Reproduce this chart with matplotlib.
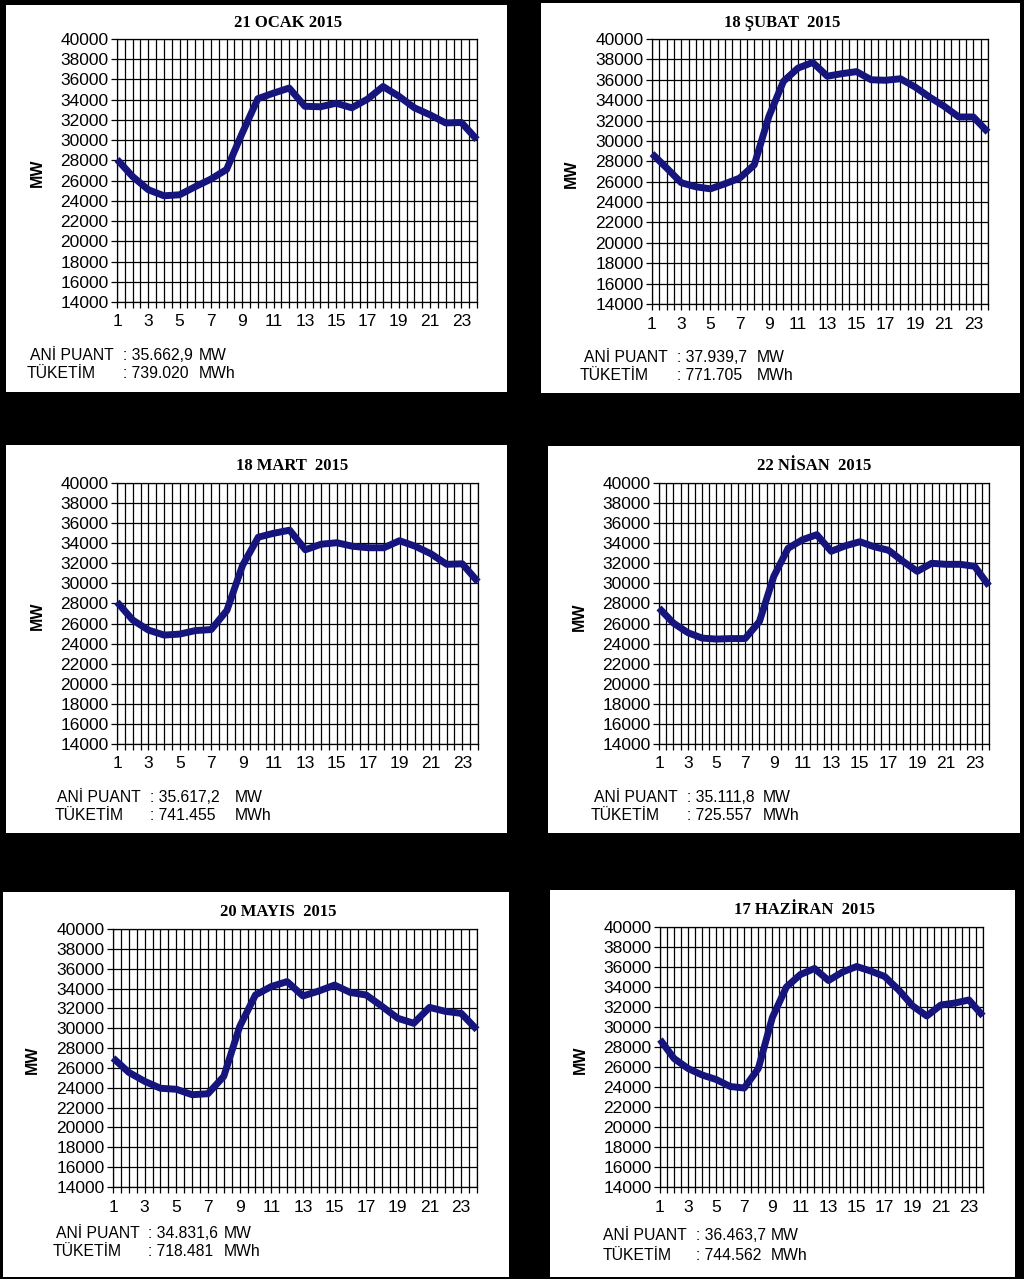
import matplotlib
matplotlib.use("Agg")
import matplotlib.pyplot as plt
from matplotlib.patches import Rectangle
import numpy as np

hours = list(range(1, 25))

ocak = [28100, 26400, 25100, 24500, 24600, 25400, 26150, 27100, 30700, 34100, 34650, 35150,
        33350, 33300, 33650, 33200, 34050, 35300, 34350, 33200, 32500, 31700, 31750, 30050]
subat = [28750, 27350, 25900, 25500, 25300, 25800, 26350, 27650, 32400, 35850, 37150, 37700,
         36350, 36600, 36800, 36000, 35950, 36100, 35300, 34300, 33400, 32350, 32350, 30850]
mart = [28150, 26350, 25350, 24850, 24950, 25300, 25400, 27300, 31800, 34600, 35000, 35300,
        33350, 33900, 34050, 33700, 33550, 33550, 34250, 33700, 32950, 31900, 31950, 30150]
nisan = [27550, 26050, 25100, 24550, 24450, 24500, 24500, 26200, 30700, 33500, 34350, 34850,
         33200, 33750, 34150, 33650, 33300, 32200, 31200, 32000, 31900, 31900, 31700, 29750]
mayis = [27000, 25550, 24650, 23950, 23850, 23300, 23400, 25150, 30150, 33350, 34200, 34700,
         33250, 33750, 34350, 33600, 33350, 32200, 31000, 30500, 32100, 31700, 31500, 29850]
haziran = [28750, 26850, 25850, 25200, 24750, 24050, 23900, 25850, 30950, 34000, 35250, 35850,
           34650, 35500, 36050, 35600, 35050, 33700, 32100, 31100, 32200, 32400, 32700, 31100]

titles = ["21 OCAK 2015", "18 ŞUBAT  2015", "18 MART  2015",
          "22 NİSAN  2015", "20 MAYIS  2015", "17 HAZİRAN  2015"]
puant = ["35.662,9", "37.939,7", "35.617,2", "35.111,8", "34.831,6", "36.463,7"]
tuketim = ["739.020", "771.705", "741.455", "725.557", "718.481", "744.562"]
series = [ocak, subat, mart, nisan, mayis, haziran]

W, H = 1024, 1279
LINE = "#15157d"

# pixel layouts: white box, axes box, title pos, MW pos, text rows
panels = [
    dict(box=(6, 5, 507, 392), ax=(117, 39, 477, 302), title=(288, 23), mw=(37, 173),
         rows=(355, 374), lx=(30, 27), cx=123, ux=199),
    dict(box=(541, 3, 1020, 393), ax=(652, 39, 988, 304), title=(782, 23), mw=(571, 174),
         rows=(357, 376), lx=(584, 580), cx=677, ux=757),
    dict(box=(6, 445, 507, 833), ax=(117, 483, 478, 744), title=(292, 466), mw=(37, 616),
         rows=(797, 815), lx=(57, 55), cx=150, ux=235),
    dict(box=(548, 446, 1020, 833), ax=(659, 483, 989, 744), title=(814, 466), mw=(579, 617),
         rows=(797, 815), lx=(594, 591), cx=687, ux=763),
    dict(box=(3, 892, 509, 1277), ax=(113, 929, 477, 1187), title=(278, 912), mw=(32, 1060),
         rows=(1233, 1252), lx=(56, 53), cx=148, ux=224),
    dict(box=(550, 890, 1015, 1277), ax=(660, 927, 983, 1187), title=(804, 910), mw=(580, 1060),
         rows=(1236, 1255), lx=(603, 603), cx=696, ux=771),
]

sans = "Liberation Sans"
serif = "Liberation Serif"

fig = plt.figure(figsize=(W / 100, H / 100), dpi=100, facecolor="black")


def fx(x):
    return x / W


def fy(y):
    return 1 - y / H


for p, data, title, pv, tv in zip(panels, series, titles, puant, tuketim):
    x0, y0, x1, y1 = p["box"]
    fig.patches.append(Rectangle((fx(x0), fy(y1)), (x1 - x0) / W, (y1 - y0) / H,
                                 transform=fig.transFigure, facecolor="white",
                                 edgecolor="none", zorder=-5))
    a0, b0, a1, b1 = p["ax"]
    ax = fig.add_axes([fx(a0), fy(b1), (a1 - a0) / W, (b1 - b0) / H])
    ax.plot(hours, data, color=LINE, linewidth=5, solid_joinstyle="round",
            solid_capstyle="butt", zorder=3, clip_on=False)
    ax.set_xlim(1, 24)
    ax.set_ylim(14000, 40000)
    xt = np.arange(1, 24.01, 0.5)
    ax.set_xticks(xt)
    ax.set_xticklabels([str(int(v)) if v == int(v) and int(v) % 2 == 1 else "" for v in xt])
    ax.set_yticks(np.arange(14000, 40001, 2000))
    ax.grid(True, color="black", linewidth=0.9)
    ax.set_axisbelow(True)
    for s in ax.spines.values():
        s.set_linewidth(0.9)
    ax.tick_params(axis="both", length=4, width=0.9, labelsize=12.5, pad=2)
    ax.tick_params(axis="x", pad=5)
    for lab in ax.get_xticklabels() + ax.get_yticklabels():
        lab.set_fontfamily(sans)

    fig.text(fx(p["title"][0]), fy(p["title"][1]), title, ha="center", va="center",
             fontsize=12, fontweight="bold", family=serif)
    fig.text(fx(p["mw"][0]), fy(p["mw"][1]), "MW", ha="center", va="center",
             rotation=90, fontsize=11.5, fontweight="bold", family=sans)
    r1, r2 = p["rows"]
    fig.text(fx(p["lx"][0]), fy(r1), "ANİ PUANT", va="center", fontsize=11.3, family=sans)
    fig.text(fx(p["cx"]), fy(r1), ": " + pv, va="center", fontsize=11.3, family=sans)
    fig.text(fx(p["ux"]), fy(r1), "MW", va="center", fontsize=11.3, family=sans)
    fig.text(fx(p["lx"][1]), fy(r2), "TÜKETİM", va="center", fontsize=11.3, family=sans)
    fig.text(fx(p["cx"]), fy(r2), ": " + tv, va="center", fontsize=11.3, family=sans)
    fig.text(fx(p["ux"]), fy(r2), "MWh", va="center", fontsize=11.3, family=sans)

fig.savefig("out.png", dpi=100, facecolor="black")
